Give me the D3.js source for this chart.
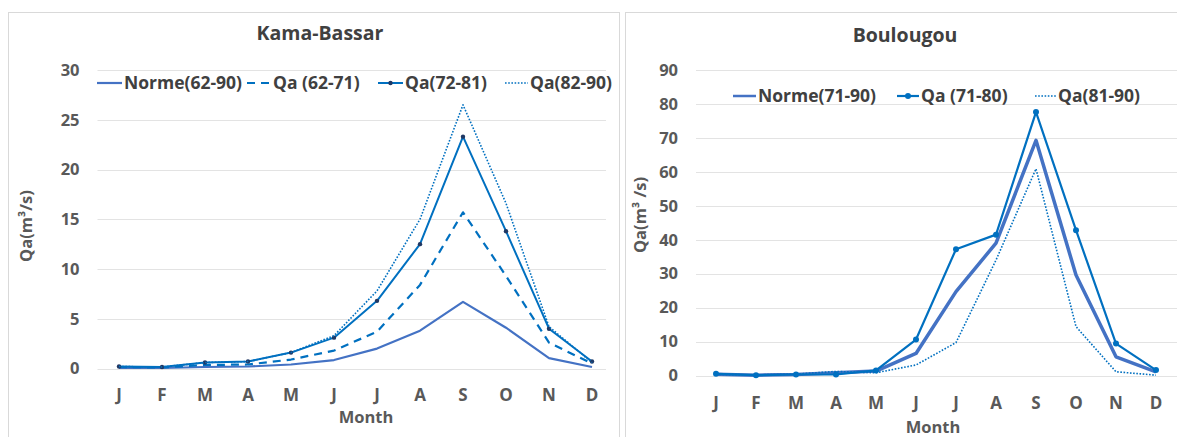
<!DOCTYPE html>
<html><head><meta charset="utf-8">
<script src="https://cdn.jsdelivr.net/npm/d3@7"></script>
<style>
html,body{margin:0;padding:0;background:#fff;}
svg{display:block;}
text{font-family:"Open Sans",Lato,sans-serif;font-weight:bold;}
</style></head>
<body>
<svg id="c" width="1177" height="437"></svg>
<script>
const months = ["J","F","M","A","M","J","J","A","S","O","N","D"];

// Kama-Bassar
const kbTicks = [0,5,10,15,20,25,30];
const kbNorme = [0.05,0.05,0.15,0.2,0.4,0.85,2.0,3.8,6.7,4.1,1.05,0.15];
const kbQa6271 = [0.15,0.1,0.35,0.4,0.9,1.8,3.7,8.4,15.7,9.3,2.6,0.5];
const kbQa7281 = [0.2,0.15,0.6,0.7,1.6,3.1,6.8,12.5,23.3,13.8,4.0,0.7];
const kbQa8290 = [0.2,0.15,0.6,0.7,1.6,3.3,7.8,15.0,26.5,16.6,4.2,0.6];

// Boulougou
const boTicks = [0,10,20,30,40,50,60,70,80,90];
const boNorme = [0.4,0.1,0.3,0.8,1.3,6.5,24.7,39.0,69.3,29.6,5.5,1.1];
const boQa7180 = [0.5,0.1,0.3,0.3,1.5,10.6,37.2,41.5,77.6,42.8,9.4,1.6];
const boQa8190 = [0.3,0.2,0.4,1.2,0.8,3.1,9.7,34.0,60.9,14.4,1.1,0.1];

const svg = d3.select("#c");

// panel borders
svg.append("rect").attr("x",8.5).attr("y",12.5).attr("width",611).attr("height",430)
  .attr("fill","none").attr("stroke","#d9d9d9");
svg.append("rect").attr("x",625.5).attr("y",12.5).attr("width",560).attr("height",430)
  .attr("fill","none").attr("stroke","#d9d9d9");

function panel(cfg){
  const g = svg.append("g");
  const x = d3.scaleBand().domain(d3.range(12)).range(cfg.xr);
  const y = d3.scaleLinear().domain([0,cfg.ymax]).range(cfg.yr);
  g.append("g").selectAll("line").data(cfg.ticks).join("line")
    .attr("x1",cfg.xr[0]).attr("x2",cfg.gridEnd)
    .attr("y1",d=>Math.round(y(d))+0.5).attr("y2",d=>Math.round(y(d))+0.5)
    .attr("stroke","#e3e3e3").attr("stroke-width",1.2);
  const ya = g.append("g").attr("transform",`translate(${cfg.xr[0]-18},0)`)
    .call(d3.axisLeft(y).tickValues(cfg.ticks).tickSize(0).tickPadding(0));
  ya.select(".domain").remove();
  ya.selectAll("text").attr("font-size",16.5).attr("fill","#595959")
    .attr("font-family","'Open Sans',sans-serif").attr("font-weight","bold");
  const xa = g.append("g").attr("transform",`translate(0,${cfg.xLabelY})`)
    .call(d3.axisBottom(x).tickFormat(i=>months[i]).tickSize(0).tickPadding(0));
  xa.select(".domain").remove();
  xa.selectAll("text").attr("font-size",17).attr("fill","#595959")
    .attr("font-family","'Open Sans',sans-serif").attr("font-weight","bold").attr("dy","0.35em");
  g.append("text").attr("x",cfg.titleX).attr("y",cfg.titleY).attr("text-anchor","middle")
    .attr("font-size",19.5).attr("fill","#404040").text(cfg.title);
  g.append("text").attr("x",cfg.monthX).attr("y",cfg.monthY).attr("text-anchor","middle")
    .attr("font-size",16.5).attr("fill","#595959").text("Month");
  g.append("text").attr("transform",`translate(${cfg.ytX},${cfg.ytY}) rotate(-90)`)
    .attr("text-anchor","middle").attr("font-size",16.5).attr("fill","#595959").text(cfg.ytitle);
  const line = d3.line().x((d,i)=>x(i)+x.bandwidth()/2).y(d=>y(d));
  cfg.series.forEach(s=>{
    g.append("path").attr("d",line(s.data)).attr("fill","none")
      .attr("stroke",s.color).attr("stroke-width",s.w)
      .attr("stroke-dasharray",s.dash||null).attr("stroke-linejoin","round");
    if(s.marker){
      g.append("g").selectAll("circle").data(s.data).join("circle")
        .attr("cx",(d,i)=>x(i)+x.bandwidth()/2).attr("cy",d=>y(d))
        .attr("r",s.marker.r).attr("fill",s.marker.fill);
    }
  });
  cfg.legend.forEach(l=>{
    const s = cfg.series[l.i];
    const lg = g.append("g");
    lg.append("line").attr("x1",l.x).attr("x2",l.x+l.len).attr("y1",cfg.legY).attr("y2",cfg.legY)
      .attr("stroke",s.color).attr("stroke-width",s.w>2.5?2.5:s.w).attr("stroke-dasharray",s.dash||null);
    if(s.marker){
      lg.append("circle").attr("cx",l.x+l.len/2).attr("cy",cfg.legY).attr("r",s.marker.r).attr("fill",s.marker.fill);
    }
    lg.append("text").attr("x",l.x+l.len+2).attr("y",cfg.legY).attr("dy","0.35em")
      .attr("font-size",17.5).attr("fill","#404040").text(s.name);
  });
}

panel({
  xr:[97.5,613.5], gridEnd:606, yr:[368.5,70], ymax:30, ticks:kbTicks,
  xLabelY:395, title:"Kama-Bassar", titleX:320, titleY:40,
  monthX:366, monthY:423, ytX:32, ytY:226, ytitle:"Qa(m³/s)",
  legY:83,
  series:[
    {name:"Norme(62-90)", data:kbNorme, color:"#4472C4", w:2.2},
    {name:"Qa (62-71)", data:kbQa6271, color:"#0070C0", w:2.2, dash:"8,6"},
    {name:"Qa(72-81)", data:kbQa7281, color:"#0070C0", w:2, marker:{r:2.2, fill:"#1F3864"}},
    {name:"Qa(82-90)", data:kbQa8290, color:"#0070C0", w:1.6, dash:"1.6,1.6"}
  ],
  legend:[{i:0,x:97,len:25},{i:1,x:247,len:24},{i:2,x:378,len:25},{i:3,x:505,len:23}]
});

panel({
  xr:[696,1176], gridEnd:1177, yr:[375.5,70], ymax:90, ticks:boTicks,
  xLabelY:403, title:"Boulougou", titleX:905, titleY:42,
  monthX:933, monthY:433, ytX:646, ytY:215, ytitle:"Qa(m³ /s)",
  legY:96,
  series:[
    {name:"Norme(71-90)", data:boNorme, color:"#4472C4", w:3.5},
    {name:"Qa (71-80)", data:boQa7180, color:"#0070C0", w:2.2, marker:{r:3, fill:"#0070C0"}},
    {name:"Qa(81-90)", data:boQa8190, color:"#0070C0", w:1.6, dash:"1.6,1.6"}
  ],
  legend:[{i:0,x:733,len:23},{i:1,x:897,len:22},{i:2,x:1035,len:21}]
});
</script>
</body></html>
